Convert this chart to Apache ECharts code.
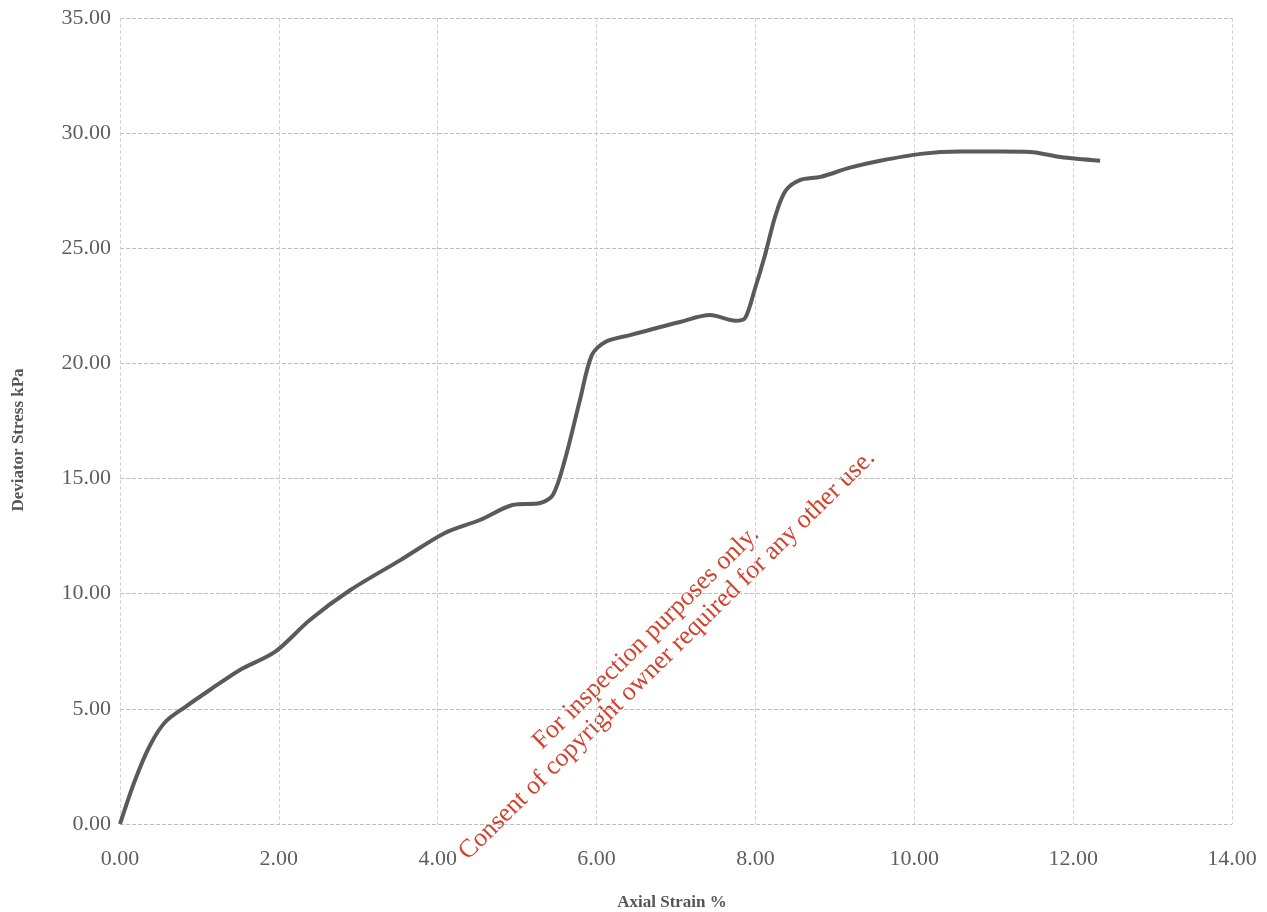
<!DOCTYPE html>
<html><head><meta charset="utf-8">
<script src="https://cdn.jsdelivr.net/npm/echarts@6/dist/echarts.min.js"></script>
<style>html,body{margin:0;padding:0;background:#fff}#c{width:1267px;height:912px}</style>
</head><body><div id="c"></div>
<script>
const strain = [0, 0.19, 0.38, 0.57, 0.82, 1.13, 1.51, 1.95, 2.39, 2.90, 3.53, 4.09, 4.53, 4.94, 5.29, 5.45, 5.60, 5.79, 5.94, 6.11, 6.42, 7.05, 7.43, 7.75, 7.87, 7.99, 8.12, 8.25, 8.38, 8.56, 8.82, 9.19, 9.57, 10.08, 10.58, 11.08, 11.46, 11.84, 12.34];
const stress = [0, 1.91, 3.43, 4.43, 5.08, 5.82, 6.69, 7.47, 8.86, 10.16, 11.46, 12.64, 13.2, 13.85, 13.94, 14.29, 15.8, 18.4, 20.36, 20.93, 21.23, 21.8, 22.1, 21.85, 21.97, 23.2, 24.7, 26.4, 27.5, 27.96, 28.1, 28.5, 28.8, 29.1, 29.2, 29.2, 29.18, 28.96, 28.8];
const xTitle = 'Axial Strain %';
const yTitle = 'Deviator Stress kPa';
const watermark1 = 'For inspection purposes only.';
const watermark2 = 'Consent of copyright owner required for any other use.';

const chart = echarts.init(document.getElementById('c'));
const serif = '"Liberation Serif", "DejaVu Serif", serif';
const rot = Math.PI / 4 * 0.99;
chart.setOption({
  animation: false,
  grid: {left: 120, right: 35, top: 18, bottom: 88},
  xAxis: {
    type: 'value', min: 0, max: 14, interval: 2,
    axisLine: {show: false}, axisTick: {show: false},
    axisLabel: {formatter: v => v.toFixed(2), fontFamily: serif, fontSize: 22, color: '#5e5e5e', margin: 24},
    splitLine: {show: true, lineStyle: {color: '#d4d4d4', type: 'dashed', width: 1}}
  },
  yAxis: {
    type: 'value', min: 0, max: 35, interval: 5,
    axisLine: {show: false}, axisTick: {show: false},
    axisLabel: {formatter: v => v.toFixed(2), fontFamily: serif, fontSize: 22, color: '#5e5e5e', margin: 9},
    splitLine: {show: true, lineStyle: {color: '#bdbdbd', type: 'dashed', width: 1}}
  },
  series: [{
    type: 'line', data: strain.map((x, i) => [x, stress[i]]),
    smooth: 0.3, showSymbol: false,
    lineStyle: {color: '#5a5a5a', width: 4}
  }],
  graphic: [
    {type: 'text', x: 672, y: 903,
     style: {text: xTitle, fontFamily: serif, fontWeight: 'bold', fontSize: 17, fill: '#555', align: 'center', verticalAlign: 'middle'}},
    {type: 'text', x: 19, y: 440, rotation: Math.PI / 2,
     style: {text: yTitle, fontFamily: serif, fontWeight: 'bold', fontSize: 17, fill: '#555', align: 'center', verticalAlign: 'middle'}},
    {type: 'text', x: 646, y: 638, rotation: rot,
     style: {text: watermark1, fontFamily: serif, fontSize: 26, fill: '#d0432f', align: 'center', verticalAlign: 'middle'}},
    {type: 'text', x: 667, y: 655, rotation: rot,
     style: {text: watermark2, fontFamily: serif, fontSize: 26, fill: '#d0432f', align: 'center', verticalAlign: 'middle'}}
  ]
});
</script></body></html>
